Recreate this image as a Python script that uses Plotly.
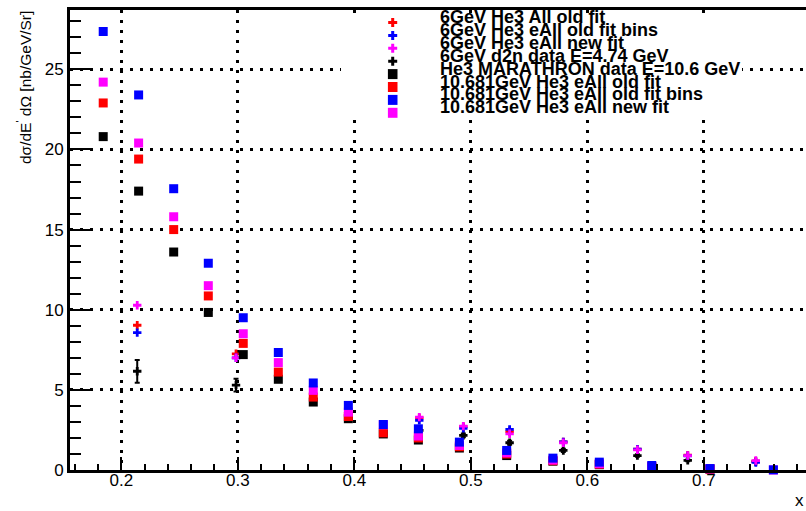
import plotly.graph_objects as go

# ---- 10.681 GeV bins (MARATHON kinematics) ----
x_bins = [0.1845, 0.2149, 0.2450, 0.2747, 0.3047, 0.3348, 0.3648, 0.3949, 0.4249,
          0.4550, 0.4902, 0.5308, 0.5705, 0.6103, 0.6553, 0.7053, 0.7597]
marathon = [20.8, 17.4, 13.6, 9.83, 7.20, 5.66, 4.24, 3.20, 2.25,
            1.87, 1.37, 0.90, 0.55, 0.33, 0.18, 0.05, -0.02]
old_fit_10 = [22.9, 19.4, 15.0, 10.86, 7.90, 6.11, 4.55, 3.34, 2.32,
              2.00, 1.45, 1.00, 0.58, 0.36, 0.20, 0.06, -0.03]
old_fit_bins_10 = [27.36, 23.4, 17.55, 12.9, 9.50, 7.33, 5.43, 4.03, 2.84,
                   2.57, 1.74, 1.22, 0.74, 0.49, 0.28, 0.09, 0.01]
new_fit_10 = [24.2, 20.4, 15.8, 11.5, 8.50, 6.70, 4.97, 3.61, 2.82,
              2.12, 1.53, 1.07, 0.62, 0.39, 0.22, 0.07, 0.00]

# ---- 6 GeV d2n kinematics ----
x_6gev = [0.2137, 0.2985, 0.4558, 0.4936, 0.5333, 0.5794, 0.6430, 0.6862, 0.7446]
d2n_data = [6.16, 5.30, 2.47, 2.16, 1.70, 1.22, 0.90, 0.60, 0.52]
d2n_err = [0.71, 0.40, 0.15, 0.12, 0.12, 0.10, 0.08, 0.06, 0.05]
all_old_6 = [9.03, 7.25, 3.25, 2.70, 2.40, 1.75, 1.30, 0.92, 0.55]
eall_old_bins_6 = [8.57, 7.00, 3.10, 2.60, 2.53, 1.75, 1.30, 0.88, 0.47]
eall_new_6 = [10.28, 7.00, 3.30, 2.74, 2.26, 1.70, 1.26, 0.90, 0.59]

labels = [
    "6GeV He3 All old fit",
    "6GeV He3 eAll old fit bins",
    "6GeV He3 eAll new fit",
    "6GeV d2n data E=4.74 GeV",
    "He3 MARATHRON data E=10.6 GeV",
    "10.681GeV He3 eAll old fit",
    "10.681GeV He3 eAll old fit bins",
    "10.681GeV He3 eAll new fit",
]
colors = ["#ff0000", "#0000ff", "#ff00ff", "#000000",
          "#000000", "#ff0000", "#0000ff", "#ff00ff"]
symbols = ["cross"] * 4 + ["square"] * 4

FONT = "Liberation Sans, Arial, sans-serif"
W, H = 806, 511
ML, MR, MT, MB = 70, 0, 10, 41
X_RANGE = [0.1560, 0.7877]
Y_RANGE = [0.0, 28.7]


def px_x(px):
    return (px - ML) / (W - ML - MR)


def px_y(py):
    return (H - MB - py) / (H - MB - MT)


fig = go.Figure()

# d2n data first, the 6 GeV fit crosses over it, then the 10.6 GeV squares on top
fig.add_trace(go.Scatter(
    x=x_6gev, y=d2n_data, mode="markers", name=labels[3], showlegend=False,
    cliponaxis=False,
    error_y=dict(type="data", array=d2n_err, color="black", thickness=2, width=2.5),
    marker=dict(symbol="cross", size=7, color="black", line=dict(width=0))))

series_6 = [(all_old_6, 0), (eall_old_bins_6, 1), (eall_new_6, 2)]
for vals, i in series_6:
    fig.add_trace(go.Scatter(
        x=x_6gev, y=vals, mode="markers", name=labels[i], showlegend=False,
        cliponaxis=False,
        marker=dict(symbol="cross", size=7, color=colors[i], line=dict(width=0))))

series_10 = [(marathon, 4), (old_fit_10, 5), (new_fit_10, 7), (old_fit_bins_10, 6)]
for vals, i in series_10:
    fig.add_trace(go.Scatter(
        x=x_bins, y=vals, mode="markers", name=labels[i], showlegend=False,
        cliponaxis=False,
        marker=dict(symbol="square", size=9, color=colors[i], line=dict(width=0))))

grid = dict(showgrid=True, gridcolor="black", gridwidth=2.5, griddash="3px,7px")

fig.update_xaxes(
    range=X_RANGE, tick0=0, dtick=0.1, tickformat=".1f",
    ticks="inside", ticklen=13, tickwidth=2, tickcolor="black",
    showline=True, linewidth=3, linecolor="black", mirror=True,
    zeroline=False, ticklabelstandoff=-7,
    tickfont=dict(family=FONT, size=17, color="black"),
    minor=dict(dtick=0.02, tick0=0, ticks="inside", ticklen=6, tickwidth=2,
               tickcolor="black", showgrid=False),
    **grid)
fig.update_yaxes(
    range=Y_RANGE, tick0=0, dtick=5,
    ticks="inside", ticklen=22, tickwidth=2, tickcolor="black",
    showline=True, linewidth=3, linecolor="black", mirror=False,
    zeroline=False, ticklabelstandoff=0,
    tickfont=dict(family=FONT, size=17, color="black"),
    minor=dict(dtick=1, tick0=0, ticks="inside", ticklen=11, tickwidth=2,
               tickcolor="black", showgrid=False),
    **grid)

shapes = []
annotations = []

# legend panel
shapes.append(dict(type="rect", xref="paper", yref="paper", layer="above",
                   x0=px_x(341), x1=px_x(742), y0=px_y(120), y1=px_y(14),
                   fillcolor="white", line=dict(width=0)))

row_y = [22.5 + 12.9 * k for k in range(8)]
mark_x = px_x(392.7)
for k in range(8):
    if symbols[k] == "cross":
        a, b = 1.5, 4.5
        path = (f"M{-b},{-a} H{-a} V{-b} H{a} V{-a} H{b} V{a} H{a} V{b} "
                f"H{-a} V{a} H{-b} Z")
        shapes.append(dict(type="path", xref="paper", yref="paper", layer="above",
                           xsizemode="pixel", ysizemode="pixel",
                           xanchor=mark_x, yanchor=px_y(row_y[k]), path=path,
                           fillcolor=colors[k], line=dict(width=0)))
    else:
        shapes.append(dict(type="rect", xref="paper", yref="paper", layer="above",
                           xsizemode="pixel", ysizemode="pixel",
                           xanchor=mark_x, yanchor=px_y(row_y[k]),
                           x0=-4.8, x1=4.8, y0=-5, y1=5,
                           fillcolor=colors[k], line=dict(width=0)))
    annotations.append(dict(
        text="<b>" + labels[k] + "</b>", xref="paper", yref="paper",
        x=px_x(438), y=px_y(row_y[k] - 5.5), xanchor="left", yanchor="middle",
        showarrow=False, font=dict(family=FONT, size=18, color="black")))

# axis titles
annotations.append(dict(
    text="dσ/dE<sup>'</sup> dΩ [nb/GeV/Sr]", xref="paper", yref="paper",
    x=px_x(24), y=px_y(88), xanchor="center", yanchor="middle", textangle=-90,
    showarrow=False, font=dict(family=FONT, size=15.5, color="black")))
annotations.append(dict(
    text="x", xref="paper", yref="paper", x=1.0, y=px_y(500),
    xanchor="right", yanchor="middle", showarrow=False,
    font=dict(family=FONT, size=17, color="black")))

fig.update_layout(
    width=W, height=H, autosize=False,
    margin=dict(l=ML, r=MR, t=MT, b=MB, pad=0),
    paper_bgcolor="white", plot_bgcolor="white",
    showlegend=False, shapes=shapes, annotations=annotations,
)

fig.write_html("out.html")
